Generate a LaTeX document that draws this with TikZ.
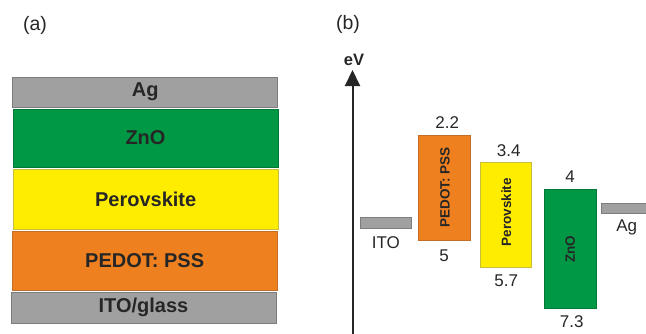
\documentclass[tikz,border=0pt]{standalone}
\usepackage{fontspec}
\setmainfont{Liberation Sans}
\usetikzlibrary{arrows.meta}

\definecolor{agray}{RGB}{160,160,160}
\definecolor{agrayedge}{RGB}{125,125,125}
\definecolor{zgreen}{RGB}{0,152,68}
\definecolor{zgreenedge}{RGB}{0,120,55}
\definecolor{pyellow}{RGB}{255,237,0}
\definecolor{pyellowedge}{RGB}{200,190,60}
\definecolor{porange}{RGB}{238,128,32}
\definecolor{porangeedge}{RGB}{195,110,40}
\definecolor{inkcol}{RGB}{38,38,38}

\tikzset{
  layer/.style={draw=#1edge, fill=#1, line width=0.7pt, inner sep=0pt,
    text=inkcol, font=\fontsize{20}{22}\selectfont\bfseries},
  level/.style={draw=#1edge, fill=#1, line width=0.7pt, inner sep=0pt},
  vlabel/.style={rotate=90, text=inkcol, inner sep=0pt,
    font=\fontsize{13.5}{15}\selectfont\bfseries},
  num/.style={text=inkcol, inner sep=0pt, font=\fontsize{17}{19}\selectfont},
  panel/.style={text=inkcol, inner sep=0pt, font=\fontsize{19.5}{21}\selectfont},
}

\begin{document}
\begin{tikzpicture}[x=1pt, y=-1pt]
  \useasboundingbox (0,0) rectangle (646,333);

  % ---- (a) device stack ----
  \node[panel] (pa) at (35,25) {(a)};
  \node[layer=agray,   minimum width=265pt, minimum height=30pt] (sag)  at (145.3,92)    {Ag};
  \node[layer=zgreen,  minimum width=265pt, minimum height=58pt] (szno) at (145.5,138)   {ZnO};
  \node[layer=pyellow, minimum width=264.5pt, minimum height=60pt] (sper) at (145.7,199) {Perovskite};
  \node[layer=porange, minimum width=264.5pt, minimum height=59pt] (sped) at (144.7,260.5) {PEDOT: PSS};
  \node[layer=agray,   minimum width=265pt, minimum height=31pt] (sito) at (143.5,307.5) {ITO/glass};

  % ---- (b) energy level diagram ----
  \node[panel] (pb) at (348,24) {(b)};
  \coordinate (axbot) at (352.5,336);
  \coordinate (axtop) at (352.5,70);
  \draw[line width=2pt, draw=inkcol, -{Triangle[width=15pt,length=16pt]}] (axbot) -- (axtop);
  \node[text=inkcol, inner sep=0pt, font=\fontsize{16.5}{18}\selectfont\bfseries] (ev) at (354,60) {eV};

  \node[level=agray,   minimum width=51.7pt, minimum height=11.4pt] (ito) at (385.8,223) {};
  \node[level=porange, minimum width=51.7pt, minimum height=105pt]  (ped) at (444.2,187.5) {};
  \node[level=pyellow, minimum width=51pt,   minimum height=105pt]  (per) at (506.2,215.2) {};
  \node[level=zgreen,  minimum width=51.7pt, minimum height=119.4pt] (zno) at (570.2,249) {};
  \node[level=agray,   minimum width=50pt,   minimum height=10pt]   (ag)  at (626,208.3) {};

  \node[vlabel] (pedlab) at ([xshift=0.8pt]ped.center) {PEDOT: PSS};
  \node[vlabel] (perlab) at ([yshift=3pt]per.center) {Perovskite};
  \node[vlabel] (znolab) at (zno.center) {ZnO};

  \node[num] (itolab) at ([yshift=-13.3pt]ito.south) {ITO};
  \node[num] (aglab)  at ([yshift=-13.4pt,xshift=0.7pt]ag.south) {Ag};

  \node[num] (pedhi) at ([yshift=11.7pt,xshift=3pt]ped.north) {2.2};
  \node[num] (pedlo) at ([yshift=-15pt]ped.south) {5};
  \node[num] (perhi) at ([yshift=11.7pt,xshift=2.5pt]per.north) {3.4};
  \node[num] (perlo) at ([yshift=-12.3pt]per.south) {5.7};
  \node[num] (znohi) at ([yshift=12.6pt]zno.north) {4};
  \node[num] (znolo) at ([yshift=-13pt,xshift=1.5pt]zno.south) {7.3};
\end{tikzpicture}
\end{document}
